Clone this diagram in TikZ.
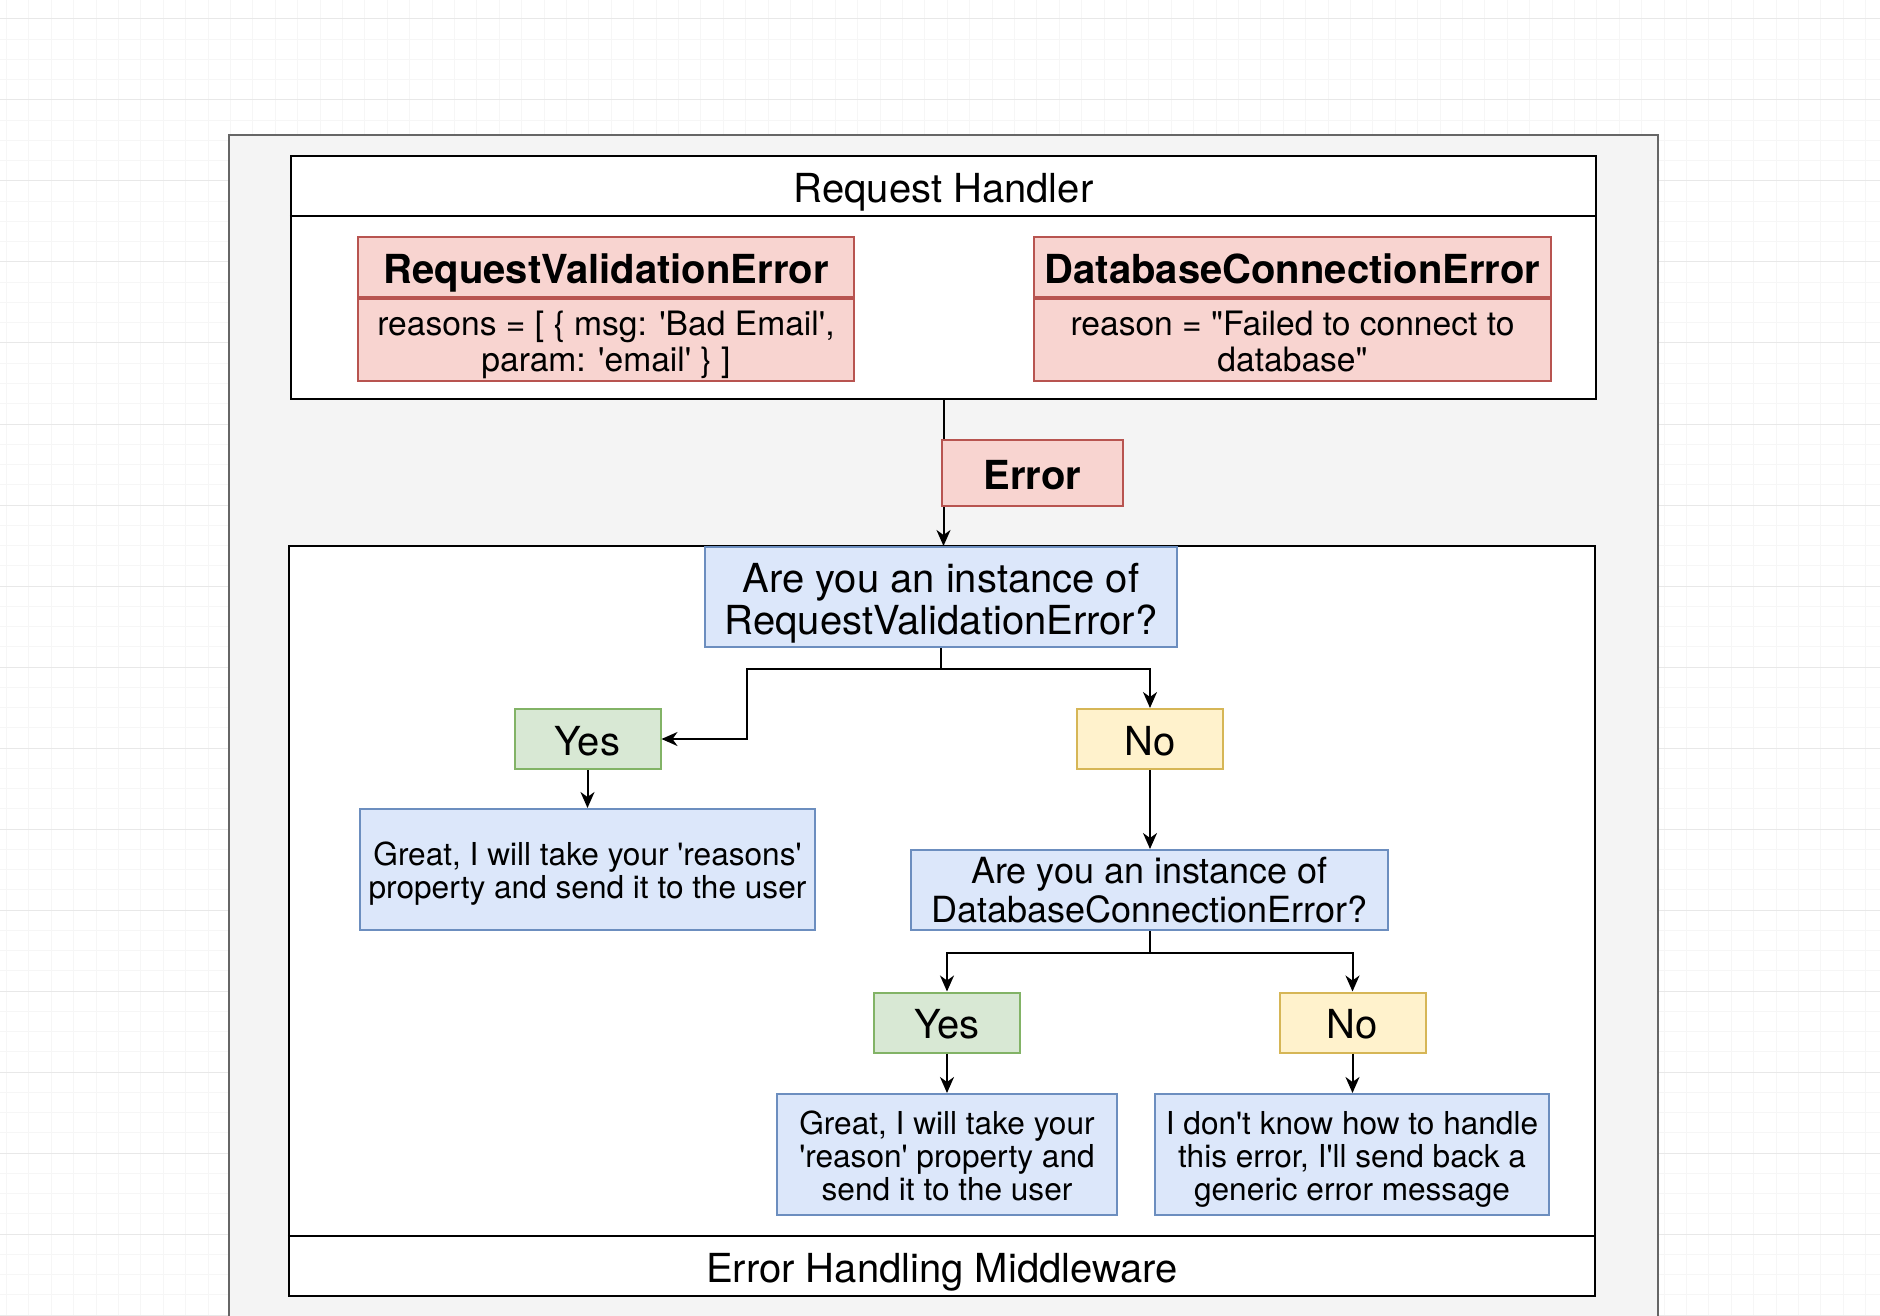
\documentclass[tikz,border=0pt]{standalone}
\usepackage{fontspec}
\newfontfamily\helv{TeX Gyre Heros}
\usetikzlibrary{arrows.meta,calc}

\definecolor{panelfill}{HTML}{F4F4F4}
\definecolor{panelline}{HTML}{666666}
\definecolor{redfill}{HTML}{F8D4D0}
\definecolor{redline}{HTML}{B85450}
\definecolor{bluefill}{HTML}{DCE7FA}
\definecolor{blueline}{HTML}{6C8EBF}
\definecolor{greenfill}{HTML}{D8E8D4}
\definecolor{greenline}{HTML}{82B366}
\definecolor{yellowfill}{HTML}{FFF2CC}
\definecolor{yellowline}{HTML}{D6B656}

\newcommand\bigtext{\helv\fontsize{20pt}{21pt}\selectfont\lineskiplimit=-50pt\relax}
\newcommand\boldtext{\helv\bfseries\fontsize{20pt}{21pt}\selectfont\lineskiplimit=-50pt\relax}
\newcommand\qtext{\helv\fontsize{18pt}{19.2pt}\selectfont\lineskiplimit=-50pt\relax}
\newcommand\midtext{\helv\fontsize{16.8pt}{18pt}\selectfont\lineskiplimit=-50pt\relax}
\newcommand\smalltext{\helv\fontsize{15.8pt}{16.4pt}\selectfont\lineskiplimit=-50pt\relax}
% line strut, so descenders do not move the text
\newcommand\st{\rule[-0.25em]{0pt}{1.31em}}

\begin{document}
\begin{tikzpicture}[x=0.5pt, y=-0.5pt,
    box/.style={draw, line width=1pt, inner sep=0pt, align=center},
    redbox/.style={box, fill=redfill, draw=redline},
    bluebox/.style={box, fill=bluefill, draw=blueline},
    greenbox/.style={box, fill=greenfill, draw=greenline, font=\bigtext,
        minimum width=73pt, minimum height=30pt},
    yellowbox/.style={box, fill=yellowfill, draw=yellowline, font=\bigtext,
        minimum width=73pt, minimum height=30pt},
    frame/.style={box, draw=black, fill=white, line width=1.2pt},
    arr/.style={line width=1pt, -{Stealth[length=8pt, width=7pt, inset=2.5pt]}}]

    \useasboundingbox (0,0) rectangle (1880,1316);

    % Canvas grid of the editor
    \fill[white] (0,0) rectangle (1880,1316);
    \foreach \gx in {6.4,28.8,...,1880}
        {
            \draw[gray!7, line width=0.5pt] (\gx,0) -- (\gx,1316);
        }
    \foreach \gy in {19,39.25,...,1316}
        {
            \draw[gray!7, line width=0.5pt] (0,\gy) -- (1880,\gy);
        }
    \foreach \gy in {19,100,...,1316}
        {
            \draw[gray!18, line width=0.5pt] (0,\gy) -- (1880,\gy);
        }

    % Grey panel behind everything
    \fill[panelfill] (229,135) rectangle (1658,1316);
    \draw[panelline, line width=1pt] (229,1316) -- (229,135) -- (1658,135) -- (1658,1316);

    % Request handler with its two errors
    \node[frame, minimum width=652.5pt, minimum height=121.5pt] (handler) at (943.5,277.5) {};
    \draw[line width=1.2pt] ($(handler.north west)+(0,61)$) -- ($(handler.north east)+(0,61)$);
    \node[font=\bigtext, inner sep=0pt] (rh) at ($(handler.north)+(0,32)$) {\st Request Handler};

    \node[redbox, font=\boldtext, minimum width=248pt, minimum height=30pt] (rvehead) at (606,267) {\st RequestValidationError};
    \node[redbox, font=\midtext, minimum width=248pt, minimum height=41pt, anchor=north] (rvebody) at (rvehead.south)
        {\st reasons = [ \{ msg: 'Bad Email',\\ \st param: 'email' \} ]};

    \node[redbox, font=\boldtext, minimum width=258.5pt, minimum height=30pt] (dcehead) at (1292.5,267) {\st DatabaseConnectionError};
    \node[redbox, font=\midtext, minimum width=258.5pt, minimum height=41pt, anchor=north] (dcebody) at (dcehead.south)
        {\st reason = "Failed to connect to\\ \st database"};

    % Error handling middleware
    \node[frame, minimum width=653pt, minimum height=375pt] (mw) at (942,921) {};
    \draw[line width=1.2pt] ($(mw.south west)+(0,-61)$) -- ($(mw.south east)+(0,-61)$);
    \node[font=\bigtext, inner sep=0pt] (mwlabel) at ($(mw.south)+(0,-31)$) {\st Error Handling Middleware};

    \node[bluebox, font=\bigtext, minimum width=236pt, minimum height=50pt] (q1) at (941,597)
        {\st Are you an instance of\\ \st RequestValidationError?};

    \draw[arr] (handler.south) -- (handler.south |- q1.north);
    \node[redbox, font=\boldtext, minimum width=90.5pt, minimum height=33pt] (err) at (1032.5,473) {\st Error};

    \node[greenbox] (yes1) at (587.5,739) {\st Yes};
    \node[yellowbox] (no1) at (1150,739) {\st No};
    \node[bluebox, font=\smalltext, minimum width=227.5pt, minimum height=60.5pt] (great1) at (587.5,869.5)
        {\st Great, I will take your 'reasons'\\ \st property and send it to the user};

    \node[bluebox, font=\qtext, minimum width=238.5pt, minimum height=40pt] (q2) at (1149.5,890)
        {Are you an instance of\\ DatabaseConnectionError?};

    \node[greenbox] (yes2) at (947,1022.5) {\st Yes};
    \node[yellowbox] (no2) at (1352.5,1022.5) {\st No};
    \node[bluebox, font=\smalltext, minimum width=170pt, minimum height=60.5pt] (great2) at (947,1154.5)
        {\st Great, I will take your\\ \st 'reason' property and\\ \st send it to the user};
    \node[bluebox, font=\smalltext, minimum width=197pt, minimum height=60.5pt] (idk) at (1352,1154.5)
        {\st I don't know how to handle\\ \st this error, I'll send back a\\ \st generic error message};

    % Decision connectors
    \draw[arr] (q1.south) -- ++(0,21) -| ($(yes1.east)+(85,0)$) -- (yes1.east);
    \draw[arr] (q1.south) -- ++(0,21) -| (no1.north);
    \draw[arr] (yes1.south) -- (great1.north);
    \draw[arr] (no1.south) -- (no1.south |- q2.north);

    \draw[arr] (q2.south) -- ++(0,22) -| (yes2.north);
    \draw[arr] (q2.south) -- ++(0,22) -| (no2.north);
    \draw[arr] (yes2.south) -- (great2.north);
    \draw[arr] (no2.south) -- (no2.south |- idk.north);

\end{tikzpicture}
\end{document}
